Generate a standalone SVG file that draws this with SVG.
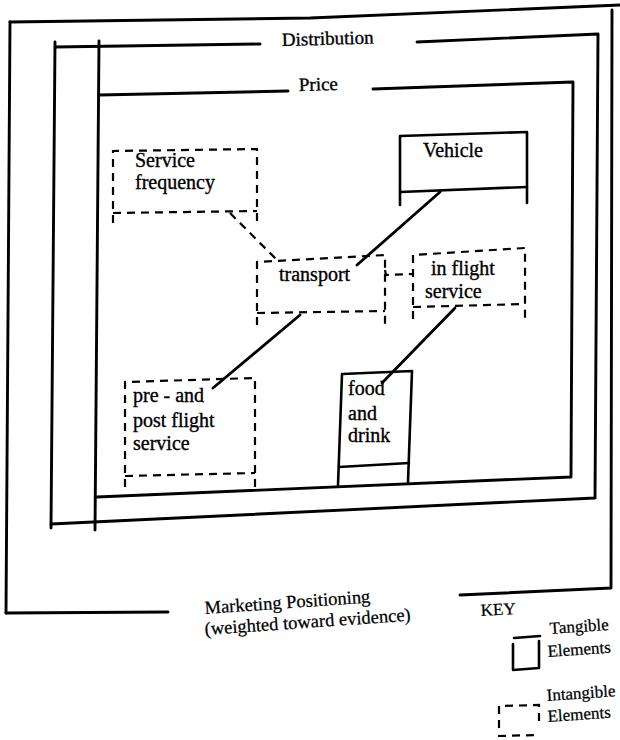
<svg xmlns="http://www.w3.org/2000/svg" width="620" height="740" viewBox="0 0 620 740">
<style>
.frame{fill:none;stroke:#000;stroke-width:2.9;stroke-linecap:round;stroke-linejoin:round}
.solid{fill:none;stroke:#000;stroke-width:2.6;stroke-linecap:round;stroke-linejoin:round}
.dash{fill:none;stroke:#000;stroke-width:2.2;stroke-dasharray:8 6}
.conn{fill:none;stroke:#000;stroke-width:2.8;stroke-linecap:round}
.conn-dash{fill:none;stroke:#000;stroke-width:2.2;stroke-dasharray:8 6}
text{font-family:"Liberation Serif","Times New Roman",serif;fill:#000;stroke:#000;stroke-width:0.35}
.lbl{font-size:19px}
.mkt{font-size:18.5px;stroke-width:0.25}
.node{font-size:20px}
.key{font-size:17px;stroke-width:0.25}
</style>
<rect width="620" height="740" fill="#fff"/>

<g id="marketing-positioning">
  <path class="frame" d="M10,22 L310,18 L620,5"/>
  <path class="frame" d="M10,22 L6,613"/>
  <path class="frame" d="M6,613 L168,612"/>
  <path class="frame" d="M460,595 L611,588 L612,10"/>
  <text class="mkt" transform="rotate(-4 205 614)" x="205" y="614">Marketing Positioning</text>
  <text class="mkt" transform="rotate(-4 205 635)" x="205" y="635">(weighted toward evidence)</text>
</g>

<g id="distribution">
  <path class="frame" d="M260,44 L55,47 L55,42 L51,528"/>
  <path class="frame" d="M417,42 L598,34 L595,498 L51,524"/>
  <text class="lbl" transform="rotate(-1.5 282 46)" x="282" y="46">Distribution</text>
</g>

<g id="price">
  <path class="frame" d="M288,91 L99,95"/>
  <path class="frame" d="M99,41 L95,530"/>
  <path class="frame" d="M373,89 L573,82 L571,477 L97,497"/>
  <text class="lbl" transform="rotate(-1.5 299 91)" x="299" y="91">Price</text>
</g>

<g id="connectors">
  <line class="conn-dash" x1="230" y1="213" x2="279" y2="262"/>
  <line class="conn" x1="440" y1="192" x2="357" y2="265"/>
  <path class="conn-dash" d="M385,270 L386,275 L412,274"/>
  <line class="conn" x1="300" y1="315" x2="213" y2="388"/>
  <line class="conn" x1="455" y1="308" x2="382" y2="383"/>
</g>

<g id="service-frequency">
  <path class="dash" d="M113,223 L113,151 L257,149 L257,223"/>
  <path class="dash" d="M113,213 L257,211"/>
  <text class="node" x="135" y="167">Service</text>
  <text class="node" x="135" y="189">frequency</text>
</g>

<g id="vehicle">
  <path class="solid" d="M400,205 L400,136 L527,132 L527,203"/>
  <path class="solid" d="M400,192 L527,187"/>
  <text class="node" x="423" y="157">Vehicle</text>
</g>

<g id="transport">
  <path class="dash" d="M257,325 L257,262 L385,255 L385,325"/>
  <path class="dash" d="M257,313 L385,311"/>
  <text class="node" x="279" y="281">transport</text>
</g>

<g id="in-flight-service">
  <path class="dash" d="M413,319 L413,255 L525,248 L525,319"/>
  <path class="dash" d="M413,307 L525,304"/>
  <text class="node" x="431" y="275">in flight</text>
  <text class="node" x="425" y="298">service</text>
</g>

<g id="pre-post-flight-service">
  <path class="dash" d="M125,487 L125,382 L255,378 L255,487"/>
  <path class="dash" d="M125,476 L255,473"/>
  <text class="node" x="133" y="402">pre - and</text>
  <text class="node" x="133" y="427">post flight</text>
  <text class="node" x="133" y="450">service</text>
</g>

<g id="food-and-drink">
  <path class="solid" d="M338,485 L342,374 L412,371 L408,482"/>
  <path class="solid" d="M339,467 L409,463"/>
  <text class="node" x="348" y="395">food</text>
  <text class="node" x="348" y="420">and</text>
  <text class="node" x="348" y="442">drink</text>
</g>

<g id="key">
  <text class="key" transform="rotate(-3 481 616)" x="481" y="616">KEY</text>
  <path class="solid" d="M514,638 L540,636"/>
  <path class="solid" d="M513,644 L513,670 L539,668 L539,641"/>
  <text class="key" transform="rotate(-4 550 634)" x="550" y="634">Tangible</text>
  <text class="key" transform="rotate(-4 548 657)" x="548" y="657">Elements</text>
  <path class="dash" d="M499,728 L499,706 L539,705 L539,727"/>
  <path class="dash" d="M498,736 L538,735"/>
  <text class="key" transform="rotate(-4 547 701)" x="547" y="701">Intangible</text>
  <text class="key" transform="rotate(-4 548 722)" x="548" y="722">Elements</text>
</g>
</svg>
